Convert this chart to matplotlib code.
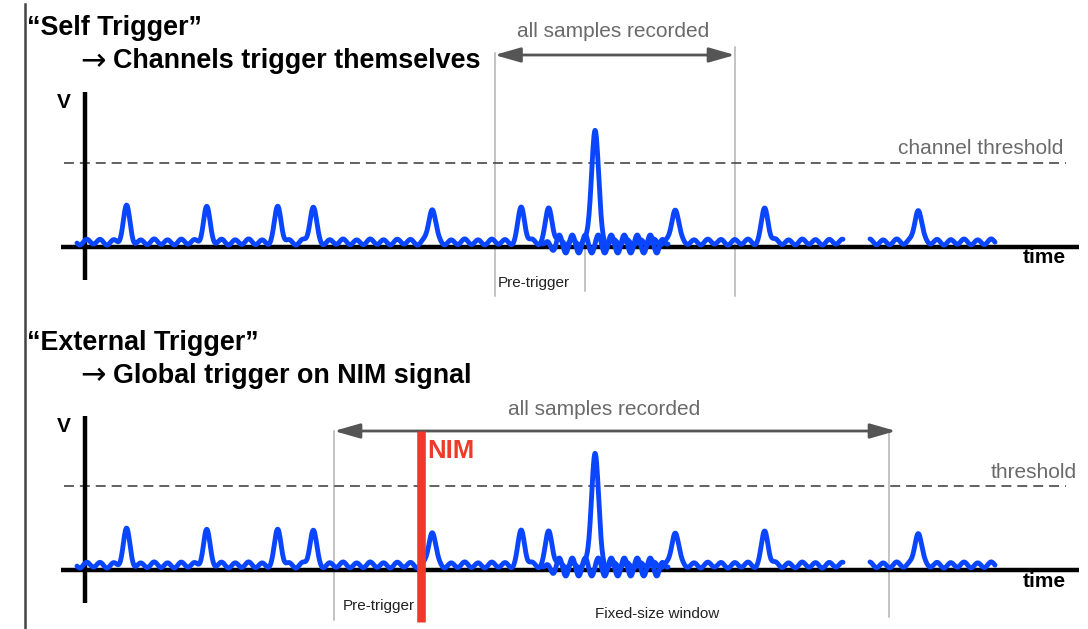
import numpy as np
import matplotlib
matplotlib.use("Agg")
import matplotlib.pyplot as plt
from matplotlib.lines import Line2D

plt.rcParams['font.family'] = ['Liberation Sans', 'DejaVu Sans']

# ---------------- data ----------------
pulse_times = [41.5, 121.5, 193, 228, 347, 436.5, 464, 510, 590, 680, 833]
pulse_heights = [34, 34, 34, 34, 34, 34, 34, 113, 34, 34, 34]
baseline_level = 5
threshold_level = 84
trace_segments = [(-8, 758), (785, 910)]
ringing_span = (458, 583)
ringing_amplitude = 9

self_window = (409.5, 650)
self_pretrigger = 499.6
ext_window = (249, 803.5)
nim_time = 335.5

BLUE = '#0a46ff'
GRAY_TXT = '#6a6a6a'
ARROW_C = '#555555'
WIN_C = '#b3b3b3'
RED = '#ee3a2c'

W, H = 1088, 629
fig = plt.figure(figsize=(W / 100, H / 100), dpi=100)
fig.patch.set_facecolor('white')


def make_axes(top_px, bottom_px, axis_y):
    ax = fig.add_axes([0, 1 - bottom_px / H, 1, (bottom_px - top_px) / H])
    ax.set_xlim(-85, W - 85)
    ax.set_ylim(axis_y - bottom_px, axis_y - top_px)
    ax.axis('off')
    return ax


def waveform(ax):
    for (a, b) in trace_segments:
        t = np.arange(a, b + 0.25, 0.5)
        v = baseline_level + 2.6 * np.sin(2 * np.pi * t / 13.5 + 0.8) \
            + 0.5 * np.sin(2 * np.pi * t / 31.0)
        for pt, ph in zip(pulse_times, pulse_heights):
            sig = 3.3 if ph < 60 else 3.5
            v = v + ph * np.exp(-0.5 * ((t - pt) / sig) ** 2)
        ax.plot(t, v, color=BLUE, lw=3.5, solid_capstyle='round',
                solid_joinstyle='round', zorder=4)
    # ringing of the big pulse (overlapping trace)
    a, b = ringing_span
    t = np.arange(a, b + 0.25, 0.5)
    env = np.clip((t - a) / 14, 0, 1) * np.clip((b - t) / 10, 0, 1)
    v = 3 + ringing_amplitude * env * np.sin(2 * np.pi * (t - a) / 13.0)
    ax.plot(t, v, color=BLUE, lw=3.5, solid_capstyle='round', zorder=4)


def axes_frame(ax, vtop, vbot):
    ax.plot([-24, 994], [0, 0], color='black', lw=3.2, zorder=3, solid_capstyle='butt')
    ax.plot([0, 0], [vbot, vtop], color='black', lw=3.2, zorder=3, solid_capstyle='butt')
    ax.plot([-21, 981], [threshold_level, threshold_level], color='#555555', lw=1.3,
            dashes=(5.5, 3.3), zorder=2)


def double_arrow(ax, t0, t1, v):
    ax.annotate('', xy=(t1, v), xytext=(t0, v),
                arrowprops=dict(arrowstyle='<|-|>,head_length=1.05,head_width=0.3',
                                mutation_scale=15, color=ARROW_C, lw=2.0,
                                shrinkA=0, shrinkB=0), zorder=5)


# ---------------- top panel ----------------
ax1 = make_axes(0, 314.5, 247)
axes_frame(ax1, 155, -33)
ax1.plot([self_window[0]] * 2, [194, -49], color=WIN_C, lw=1.1, zorder=1)
ax1.plot([self_window[1]] * 2, [200, -49], color=WIN_C, lw=1.1, zorder=1)
ax1.plot([self_pretrigger] * 2, [7, -44], color=WIN_C, lw=1.1, zorder=1)
double_arrow(ax1, self_window[0], self_window[1], 192)
waveform(ax1)
ax1.text(-21, 139, 'V', fontsize=15, fontweight='bold', ha='center', va='baseline')
ax1.text(528.5, 210, 'all samples recorded', fontsize=15, color=GRAY_TXT, ha='center', va='baseline')
ax1.text(978.4, 93, 'channel threshold', fontsize=15, color=GRAY_TXT, ha='right', va='baseline')
ax1.text(981, -16, 'time', fontsize=15, fontweight='bold', ha='right', va='baseline')
ax1.text(413, -39.7, 'Pre-trigger', fontsize=11, color='#222222', ha='left', va='baseline')

# ---------------- bottom panel ----------------
ax2 = make_axes(314.5, 629, 570)
axes_frame(ax2, 154, -33)
ax2.plot([ext_window[0]] * 2, [139, -50], color=WIN_C, lw=1.1, zorder=1)
ax2.plot([ext_window[1]] * 2, [139, -47], color=WIN_C, lw=1.1, zorder=1)
double_arrow(ax2, ext_window[0], ext_window[1] + 7.5, 139)
ax2.plot([nim_time] * 2, [139, -52], color=RED, lw=6.2, solid_capstyle='butt', zorder=6)
waveform(ax2)
ax2.text(-21, 138, 'V', fontsize=15, fontweight='bold', ha='center', va='baseline')
ax2.text(519, 155, 'all samples recorded', fontsize=15, color=GRAY_TXT, ha='center', va='baseline')
ax2.text(342, 112, 'NIM', fontsize=18.5, fontweight='bold', color=RED, ha='left', va='baseline')
ax2.text(991.6, 92, 'threshold', fontsize=15, color=GRAY_TXT, ha='right', va='baseline')
ax2.text(981, -17, 'time', fontsize=15, fontweight='bold', ha='right', va='baseline')
ax2.text(258, -40, 'Pre-trigger', fontsize=11, color='#222222', ha='left', va='baseline')
ax2.text(510, -48, 'Fixed-size window', fontsize=11, color='#222222', ha='left', va='baseline')

# ---------------- titles & border ----------------
def ftext(x, y, s, va='baseline', **kw):
    fig.text(x / W, 1 - y / H, s, va=va, ha='left', **kw)

ftext(27, 35, '\u201cSelf Trigger\u201d', fontsize=19.4, fontweight='bold')
ftext(80, 62, '\u2192', va='center', fontsize=22, family=['DejaVu Sans'])
ftext(113, 68.5, 'Channels trigger themselves', fontsize=19.4, fontweight='bold')
ftext(27, 350, '\u201cExternal Trigger\u201d', fontsize=19.4, fontweight='bold')
ftext(80, 376, '\u2192', va='center', fontsize=22, family=['DejaVu Sans'])
ftext(113, 382.7, 'Global trigger on NIM signal', fontsize=19.4, fontweight='bold')

fig.add_artist(Line2D([25 / W, 25 / W], [1 - 4 / H, 0], color='#444444', lw=1.8))

fig.savefig('out.png', dpi=100, facecolor='white')
